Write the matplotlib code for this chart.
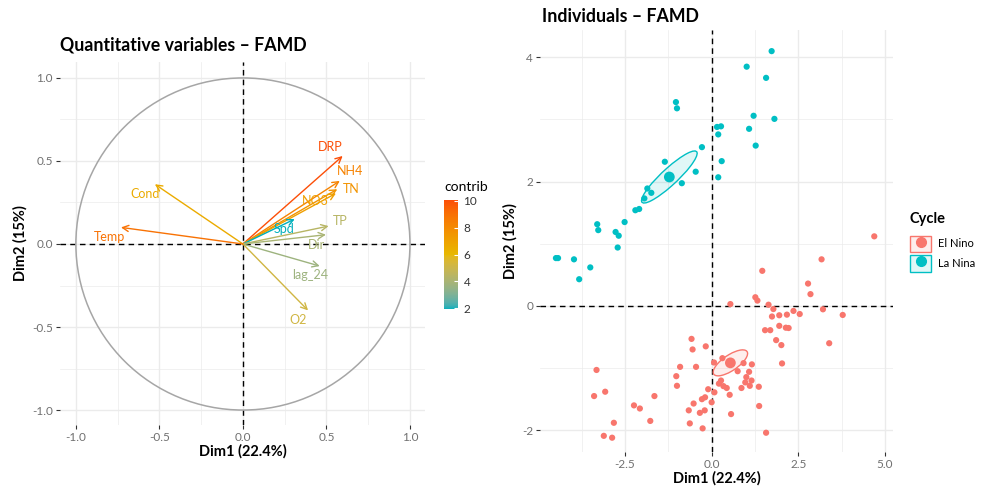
import numpy as np
import matplotlib
matplotlib.use('Agg')
import matplotlib.pyplot as plt
from matplotlib.colors import ListedColormap, Normalize, to_rgb
from matplotlib.patches import Circle, Ellipse, Patch
from matplotlib.lines import Line2D
from matplotlib.ticker import MultipleLocator

plt.rcParams['font.family'] = ['Lato', 'DejaVu Sans']
plt.rcParams['axes.unicode_minus'] = False

# --- variables (correlation circle) ---
var_names = ['DRP', 'NH4', 'TN', 'NO3', 'Spd', 'TP', 'Dir', 'lag_24', 'O2', 'Cond', 'Temp']
var_dim1 = [0.597, 0.58, 0.565, 0.557, 0.31, 0.513, 0.497, 0.46, 0.39, -0.527, -0.73]
var_dim2 = [0.53, 0.38, 0.33, 0.305, 0.15, 0.108, 0.056, -0.133, -0.40, 0.36, 0.10]
var_contrib = [10.05, 8.3, 7.6, 7.1, 1.95, 4.4, 4.0, 3.7, 5.2, 6.6, 8.9]
# label offsets from arrow tip, in pixels (ggrepel placement)
label_offsets = {
    'DRP': (-12, 9), 'NH4': (10, 10), 'TN': (14, 0), 'NO3': (-21, -8),
    'Spd': (-11, -10), 'TP': (12, 5), 'Dir': (-9, -10), 'lag_24': (-10, -9),
    'O2': (-10, -10), 'Cond': (-10, -10), 'Temp': (-11, -10),
}
gradient_cols = ['#00AFBB', '#E7B800', '#FC4E07']

# --- individuals ---
lanina_x = [1.73, 1.01, 1.57, -1.03, -1.00, 1.21, 1.81, 0.155, 0.27, 0.19, 1.08, 1.27,
            -0.28, 0.29, -1.35, -0.46, 0.19, -0.86, -1.855, -1.74, -1.94, -2.20, -2.09,
            -2.51, -3.30, -3.27, -2.77, -2.68, -2.71, -4.49, -4.43, -3.97, -3.50, -3.82]
lanina_y = [4.10, 3.85, 3.67, 3.28, 3.18, 3.06, 3.01, 2.88, 2.89, 2.76, 2.85, 2.58,
            2.555, 2.33, 2.32, 2.16, 2.07, 1.975, 1.89, 1.82, 1.73, 1.54, 1.56,
            1.35, 1.315, 1.22, 1.19, 1.13, 0.94, 0.77, 0.77, 0.75, 0.62, 0.43]
elnino_x = [4.69, 3.17, 1.46, 2.78, 2.85, 1.26, 1.32, 0.54, 1.64, 1.78, 3.21, 2.36,
            2.54, 3.78, 1.74, 1.95, 2.17, 1.95, 2.14, 2.22, 1.54, 1.69, 1.86, 2.01,
            3.39, -0.58, -0.55, -0.17, 2.03, 0.31, 0.07, 0.92, 1.16, -0.91, -0.45,
            0.75, 1.08, -3.32, -1.02, 1.0, 1.15, 0.27, 0.97, 0.21, 1.10, -1.0, 0.34,
            0.435, 0.86, 1.36, -0.10, 0.08, 0.52, -3.39, -3.07, -1.65, -0.19, -0.28,
            0.0, -0.52, -2.24, -2.07, 1.37, -0.66, -0.20, -0.34, 0.56, -1.77, -2.82,
            -0.63, -0.26, -3.11, -2.87, 1.57]
elnino_y = [1.12, 0.75, 0.565, 0.36, 0.19, 0.14, 0.086, 0.03, 0.02, -0.05, -0.054, -0.08,
            -0.13, -0.145, -0.17, -0.15, -0.14, -0.32, -0.35, -0.355, -0.39, -0.39, -0.55,
            -0.63, -0.60, -0.53, -0.70, -0.65, -0.925, -0.84, -0.91, -0.92, -0.94, -0.98,
            -0.98, -1.05, -1.06, -1.03, -1.13, -1.145, -1.20, -1.20, -1.23, -1.25, -1.285,
            -1.285, -1.29, -1.32, -1.32, -1.30, -1.34, -1.39, -1.43, -1.45, -1.38, -1.45,
            -1.47, -1.50, -1.55, -1.57, -1.60, -1.65, -1.61, -1.68, -1.68, -1.72, -1.74,
            -1.85, -1.88, -1.89, -1.97, -2.09, -2.12, -2.04]
groups = {'El Nino': (elnino_x, elnino_y, '#F8766D'),
          'La Nina': (lanina_x, lanina_y, '#00BFC4')}

GRID = '#EBEBEB'
TICK = '#707070'

# --- Lab-space colour ramp (as ggplot's gradientn does) ---
_WHITE = np.array([0.95047, 1.0, 1.08883])
_M = np.array([[0.4124, 0.3576, 0.1805],
               [0.2126, 0.7152, 0.0722],
               [0.0193, 0.1192, 0.9505]])


def rgb_to_lab(rgb):
    c = np.asarray(rgb, float)
    c = np.where(c > 0.04045, ((c + 0.055) / 1.055) ** 2.4, c / 12.92)
    xyz = _M @ c / _WHITE
    f = np.where(xyz > 216 / 24389, np.cbrt(xyz), (24389 / 27 * xyz + 16) / 116)
    return np.array([116 * f[1] - 16, 500 * (f[0] - f[1]), 200 * (f[1] - f[2])])


def lab_to_rgb(lab):
    L, a, b = lab
    fy = (L + 16) / 116
    fx = fy + a / 500
    fz = fy - b / 200
    f = np.array([fx, fy, fz])
    xyz = np.where(f ** 3 > 216 / 24389, f ** 3, (116 * f - 16) / (24389 / 27)) * _WHITE
    c = np.linalg.solve(_M, xyz)
    c = np.where(c > 0.0031308, 1.055 * np.clip(c, 0, None) ** (1 / 2.4) - 0.055, 12.92 * c)
    return np.clip(c, 0, 1)


labs = [rgb_to_lab(to_rgb(c)) for c in gradient_cols]
ramp = []
for t in np.linspace(0, 1, 256):
    seg = min(int(t * 2), 1)
    u = t * 2 - seg
    ramp.append(lab_to_rgb(labs[seg] * (1 - u) + labs[seg + 1] * u))
cmap = ListedColormap(ramp)


def style_axes(ax, major, minor):
    for s in ax.spines.values():
        s.set_visible(False)
    ax.xaxis.set_major_locator(MultipleLocator(major[0]))
    ax.yaxis.set_major_locator(MultipleLocator(major[1]))
    ax.xaxis.set_minor_locator(MultipleLocator(minor[0]))
    ax.yaxis.set_minor_locator(MultipleLocator(minor[1]))
    ax.grid(which='major', color=GRID, lw=1.0, zorder=0)
    ax.grid(which='minor', color=GRID, lw=0.5, zorder=0)
    ax.set_axisbelow(True)
    ax.tick_params(which='major', length=3, width=0.8, color='#333333',
                   labelcolor=TICK, labelsize=8.5, pad=2)
    ax.tick_params(which='minor', length=0)
    ax.axhline(0, color='black', lw=1, ls=(0, (4, 3)), zorder=1)
    ax.axvline(0, color='black', lw=1, ls=(0, (4, 3)), zorder=1)


fig = plt.figure(figsize=(9.87, 4.88), dpi=100)

# ---------------- left: variables ----------------
ax1 = fig.add_axes([60 / 987, 63 / 488, 365 / 987, 363 / 488])
style_axes(ax1, (0.5, 0.5), (0.25, 0.25))
ax1.set_xlim(-1.095, 1.09)
ax1.set_ylim(-1.09, 1.096)
ax1.xaxis.set_major_formatter(lambda v, p: f'{v:.1f}')
ax1.yaxis.set_major_formatter(lambda v, p: f'{v:.1f}')
ax1.add_patch(Circle((0, 0), 1.0, fill=False, edgecolor='#A6A6A6', lw=1.1, zorder=1))

norm = Normalize(vmin=min(var_contrib), vmax=max(var_contrib))
for name, x, y, c in zip(var_names, var_dim1, var_dim2, var_contrib):
    col = cmap(norm(c))
    ax1.annotate('', xy=(x, y), xytext=(0, 0),
                 arrowprops=dict(arrowstyle='->', color=col, lw=1.0,
                                 shrinkA=0, shrinkB=0, mutation_scale=11),
                 zorder=3)
    dx, dy = label_offsets[name]
    ax1.annotate(name, xy=(x, y), xytext=(dx, dy), textcoords='offset pixels',
                 color=col, fontsize=9, ha='center', va='center', zorder=4)

ax1.set_xlabel('Dim1 (22.4%)', fontsize=10.5, fontweight='bold', labelpad=1)
ax1.set_ylabel('Dim2 (15%)', fontsize=10.5, fontweight='bold', labelpad=3)
fig.text(60 / 987, 1 - 45 / 488, 'Quantitative variables \u2013 FAMD',
         fontsize=12.8, fontweight='bold', ha='left', va='center')

# colorbar
cax = fig.add_axes([444 / 987, 1 - 309 / 488, 14 / 987, 109 / 488])
sm = plt.cm.ScalarMappable(norm=norm, cmap=cmap)
cb = fig.colorbar(sm, cax=cax, ticks=[2, 4, 6, 8, 10])
cb.outline.set_visible(False)
cax.tick_params(length=3, width=0.8, color='white', direction='in',
                labelsize=8.5, labelcolor='#333333', pad=4)
fig.text(444 / 987, 1 - 187 / 488, 'contrib', fontsize=10, ha='left', va='center')

# ---------------- right: individuals ----------------
ax2 = fig.add_axes([540 / 987, 36 / 488, 353 / 987, 422 / 488])
style_axes(ax2, (2.5, 2), (1.25, 1))
ax2.set_xlim(-4.95, 5.23)
ax2.set_ylim(-2.35, 4.44)
ax2.xaxis.set_major_formatter(lambda v, p: f'{v:.1f}')
ax2.yaxis.set_major_formatter(lambda v, p: f'{v:.0f}')

r = np.sqrt(-2 * np.log(0.05))
handles = []
for label, (gx, gy, col) in groups.items():
    gx = np.asarray(gx)
    gy = np.asarray(gy)
    ax2.scatter(gx, gy, s=20, color=col, edgecolor='none', zorder=3)
    mx, my = gx.mean(), gy.mean()
    cov = np.cov(gx, gy) / len(gx)
    vals, vecs = np.linalg.eigh(cov)
    ang = np.degrees(np.arctan2(vecs[1, 1], vecs[0, 1]))
    w, h = 2 * r * np.sqrt(vals[1]), 2 * r * np.sqrt(vals[0])
    ax2.add_patch(Ellipse((mx, my), w, h, angle=ang, facecolor=col, alpha=0.12,
                          edgecolor='none', zorder=2))
    ax2.add_patch(Ellipse((mx, my), w, h, angle=ang, fill=False, edgecolor=col,
                          lw=1.0, zorder=2))
    ax2.scatter([mx], [my], s=60, color=col, edgecolor='none', zorder=4)
    handles.append((Patch(facecolor=col, alpha=0.12, edgecolor='none'),
                    Patch(facecolor='none', edgecolor=col, lw=1.0),
                    Line2D([], [], marker='o', ls='none', color=col, markersize=7)))

ax2.set_xlabel('Dim1 (22.4%)', fontsize=10.5, fontweight='bold', labelpad=1)
ax2.set_ylabel('Dim2 (15%)', fontsize=10.5, fontweight='bold', labelpad=3)
fig.text(542 / 987, 1 - 17 / 488, 'Individuals \u2013 FAMD',
         fontsize=12.8, fontweight='bold', ha='left', va='center')

leg = fig.legend(handles, list(groups.keys()), loc='upper left',
                 bbox_to_anchor=(910 / 987, 1 - 212 / 488), frameon=False,
                 title='Cycle', fontsize=8, handlelength=1.9, handleheight=1.9,
                 handletextpad=0.6, labelspacing=0.3, borderaxespad=0,
                 borderpad=0)
leg.get_title().set_fontweight('bold')
leg.get_title().set_fontsize(10.5)
leg._legend_box.align = 'left'
leg._legend_box.sep = 7

fig.savefig('out.png', dpi=100)
